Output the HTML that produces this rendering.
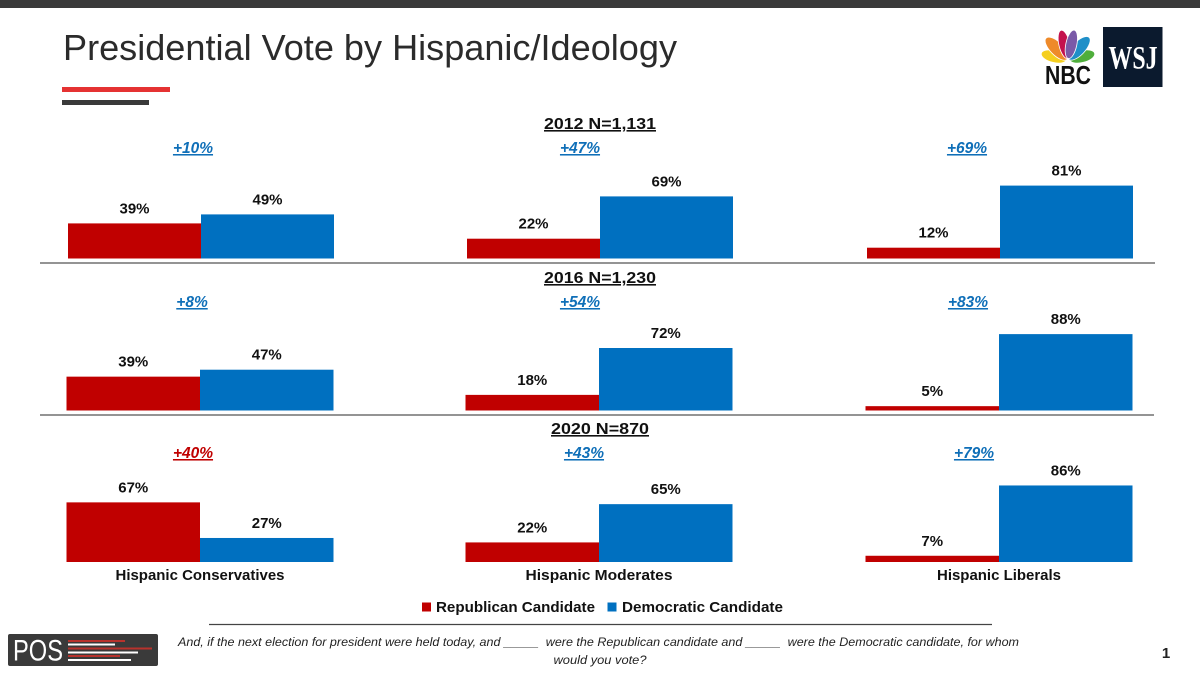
<!DOCTYPE html>
<html lang="en">
<head>
<meta charset="utf-8">
<title>Presidential Vote by Hispanic/Ideology</title>
<style>
html,body{margin:0;padding:0;background:#fff;}
svg{display:block;font-family:"Liberation Sans",sans-serif;}
</style>
</head>
<body>
<svg id="chart" xmlns="http://www.w3.org/2000/svg" width="1200" height="675" viewBox="0 0 1200 675">
  <rect width="1200" height="675" fill="#fff"/>
  <rect width="1200" height="8" fill="#3a3a3a"/>
  <text x="63" y="60" font-size="36" fill="#2b2b2b" textLength="614" lengthAdjust="spacingAndGlyphs">Presidential Vote by Hispanic/Ideology</text>
  <rect x="62" y="87" width="108" height="5" fill="#e53232"/>
  <rect x="62" y="100" width="87" height="5" fill="#3a3a3a"/>

  <g>
    <g transform="translate(1068,60)" stroke="#fff" stroke-width="0.8">
      <ellipse cx="0" cy="-14.500" rx="6" ry="13" fill="#f5cf1f" transform="rotate(-76)"/>
      <ellipse cx="0" cy="-14.500" rx="6" ry="13" fill="#4fae3c" transform="rotate(76)"/>
      <ellipse cx="0" cy="-16" rx="6.500" ry="15" fill="#ee8a2a" transform="rotate(-45)"/>
      <ellipse cx="0" cy="-16" rx="6.500" ry="15" fill="#1f8fc8" transform="rotate(43)"/>
      <ellipse cx="0" cy="-16" rx="5.500" ry="14.500" fill="#c4124e" transform="rotate(-13)"/>
      <ellipse cx="0" cy="-16" rx="5.500" ry="14.500" fill="#7a5aa8" transform="rotate(12)"/>
    </g>
    <text x="1068" y="84" font-size="26" font-weight="700" text-anchor="middle" fill="#111" textLength="46" lengthAdjust="spacingAndGlyphs">NBC</text>
  </g>
  <g>
    <rect x="1103" y="27" width="59.500" height="60" fill="#0b1a2e"/>
    <text x="1133" y="68.500" font-family="'Liberation Serif',serif" font-size="33" font-weight="700" text-anchor="middle" fill="#fff" textLength="49" lengthAdjust="spacingAndGlyphs">WSJ</text>
  </g>

  <g id="panels"></g>

  <g>
    <rect x="422" y="602.500" width="9" height="9" fill="#c00000"/>
    <text x="436" y="612" font-size="15" font-weight="700" fill="#111" textLength="159" lengthAdjust="spacingAndGlyphs">Republican Candidate</text>
    <rect x="607.500" y="602.500" width="9" height="9" fill="#0070c0"/>
    <text x="622" y="612" font-size="15" font-weight="700" fill="#111" textLength="161" lengthAdjust="spacingAndGlyphs">Democratic Candidate</text>
  </g>

  <line x1="209" y1="624.500" x2="992" y2="624.500" stroke="#444" stroke-width="1.200"/>

  <g>
    <rect x="8" y="634" width="150" height="32" rx="2" fill="#3a3a3a"/>
    <text x="13" y="660.500" font-size="30" fill="#fff" textLength="50" lengthAdjust="spacingAndGlyphs">POS</text>
    <rect x="68" y="640" width="57" height="2" fill="#b8322c"/>
    <rect x="68" y="643.500" width="47" height="2" fill="#fff"/>
    <rect x="68" y="647.500" width="84" height="2" fill="#b8322c"/>
    <rect x="68" y="651.500" width="70" height="2" fill="#fff"/>
    <rect x="68" y="655" width="52" height="2" fill="#b8322c"/>
    <rect x="68" y="659" width="63" height="2" fill="#fff"/>
  </g>

  <text x="178" y="646" font-size="11.500" font-style="italic" fill="#222" textLength="841" lengthAdjust="spacingAndGlyphs" xml:space="preserve">And, if the next election for president were held today, and _____  were the Republican candidate and _____  were the Democratic candidate, for whom</text>
  <text x="600" y="664" font-size="11.500" font-style="italic" fill="#222" text-anchor="middle" textLength="93" lengthAdjust="spacingAndGlyphs">would you vote?</text>
  <text x="1166" y="658" font-size="15" font-weight="700" fill="#222" text-anchor="middle">1</text>
</svg>

<script>
// ---- Data ----
const years = ["2012 N=1,131", "2016 N=1,230", "2020 N=870"];
const categories = ["Hispanic Conservatives", "Hispanic Moderates", "Hispanic Liberals"];
const republican2012 = [39, 22, 12];
const democratic2012 = [49, 69, 81];
const republican2016 = [39, 18, 5];
const democratic2016 = [47, 72, 88];
const republican2020 = [67, 22, 7];
const democratic2020 = [27, 65, 86];
const margins2012 = ["+10%", "+47%", "+69%"];
const margins2016 = ["+8%", "+54%", "+83%"];
const margins2020 = ["+40%", "+43%", "+79%"];
const marginParty2020 = ["r", "d", "d"];

// ---- Layout ----
const NS = "http://www.w3.org/2000/svg";
const root = document.getElementById("panels");
const RED = "#c00000";
const BLUE = "#0070c0";
const LINK = "#0f6fb8";
const DARKRED = "#c00000";

const panelLayouts = [
  {base: 258.5, scale: 0.9,   mids: [201, 600, 1000], half: 133, titleY: 129, marginY: 153, marginX: [193, 580, 967], rule: [40, 1155, 263], titleX: 600},
  {base: 410.5, scale: 0.868, mids: [200, 599, 999],  half: 133.5, titleY: 283, marginY: 307, marginX: [192, 580, 968], rule: [40, 1154, 415], titleX: 600},
  {base: 562,   scale: 0.89,  mids: [200, 599, 999],  half: 133.5, titleY: 434, marginY: 458, marginX: [193, 584, 974], rule: null, titleX: 600}
];

function yPos(layout, v) { return layout.base - v * layout.scale; }
function hSize(layout, v) { return v * layout.scale; }

function addText(parent, x, y, str, size, weight, fill, extra) {
  const t = document.createElementNS(NS, "text");
  t.setAttribute("x", x);
  t.setAttribute("y", y);
  t.setAttribute("font-size", size);
  t.setAttribute("font-weight", weight);
  t.setAttribute("fill", fill);
  t.setAttribute("text-anchor", "middle");
  if (extra) { for (const k in extra) t.setAttribute(k, extra[k]); }
  t.textContent = str;
  parent.appendChild(t);
  return t;
}

function addBar(parent, x, w, layout, v, fill) {
  const r = document.createElementNS(NS, "rect");
  r.setAttribute("x", x);
  r.setAttribute("y", yPos(layout, v));
  r.setAttribute("width", w);
  r.setAttribute("height", hSize(layout, v));
  r.setAttribute("fill", fill);
  parent.appendChild(r);
  return r;
}

const allRep = [republican2012, republican2016, republican2020];
const allDem = [democratic2012, democratic2016, democratic2020];
const allMargins = [margins2012, margins2016, margins2020];

years.forEach(function (year, p) {
  const layout = panelLayouts[p];
  const g = document.createElementNS(NS, "g");
  
  
  root.appendChild(g);

  const title = addText(g, layout.titleX, layout.titleY, year, 16, 700, "#111", {"text-decoration": "underline", "textLength": year.length > 11 ? 112 : 98, "lengthAdjust": "spacingAndGlyphs"});
  
  

  categories.forEach(function (cat, c) {
    const mid = layout.mids[c];
    const rv = allRep[p][c];
    const dv = allDem[p][c];

    const rBar = addBar(g, mid - layout.half, layout.half, layout, rv, RED);
    
    

    const dBar = addBar(g, mid, layout.half, layout, dv, BLUE);
    
    

    const rLabel = addText(g, mid - layout.half / 2, yPos(layout, rv) - 10, rv + "%", 15, 700, "#111");
    
    

    const dLabel = addText(g, mid + layout.half / 2, yPos(layout, dv) - 10, dv + "%", 15, 700, "#111");
    
    

    const isRed = p === 2 && marginParty2020[c] === "r";
    const mLabel = addText(g, layout.marginX[c], layout.marginY, allMargins[p][c], 15.5, 700, isRed ? DARKRED : LINK, {"font-style": "italic", "text-decoration": "underline"});
    
    
  });

  if (layout.rule) {
    const line = document.createElementNS(NS, "line");
    line.setAttribute("x1", layout.rule[0]);
    line.setAttribute("x2", layout.rule[1]);
    line.setAttribute("y1", layout.rule[2]);
    line.setAttribute("y2", layout.rule[2]);
    line.setAttribute("stroke", "#555");
    line.setAttribute("stroke-width", "1.300");
    
    
    g.appendChild(line);
  }
});

categories.forEach(function (cat, c) {
  const widths = [169, 147, 124];
  const t = addText(root, panelLayouts[2].mids[c], 580, cat, 14.5, 700, "#111", {"textLength": widths[c], "lengthAdjust": "spacingAndGlyphs"});
  
  
});
</script>
</body>
</html>
